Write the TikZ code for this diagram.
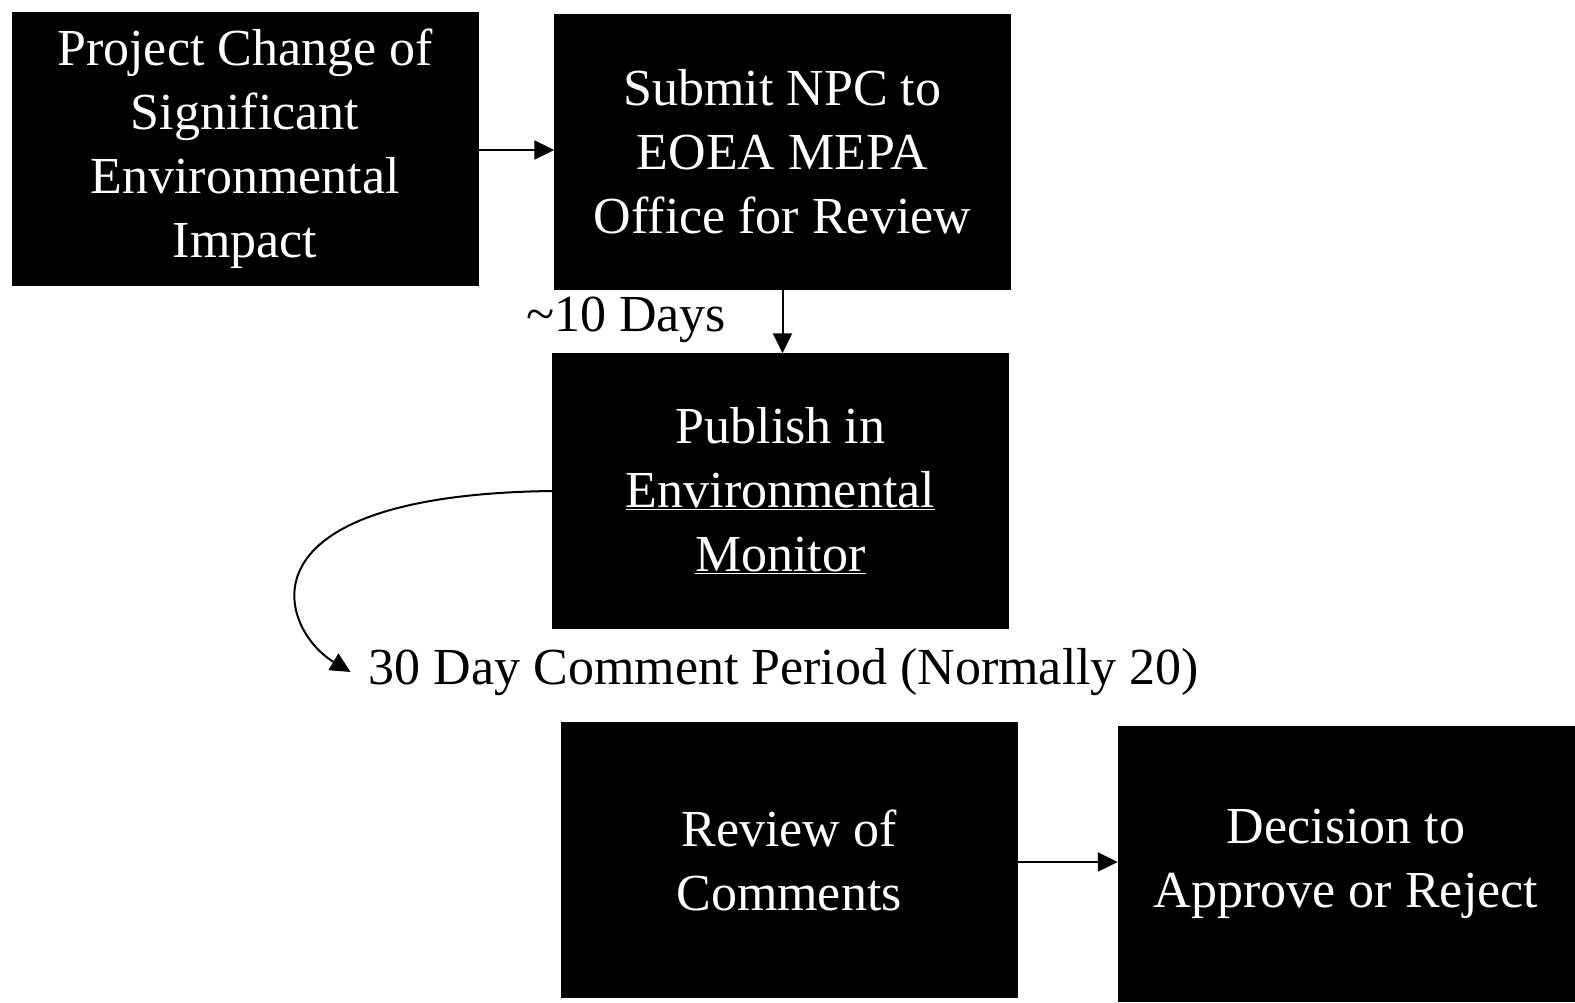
\documentclass[tikz,border=0pt]{standalone}
\usepackage{fontspec}
\setmainfont{Liberation Serif}
\usetikzlibrary{positioning, arrows.meta}

\begin{document}
\begin{tikzpicture}[
  x=1pt, y=-1pt,
  stepbox/.style={
    fill=black, draw=black, text=white, align=center,
    minimum width=456pt, minimum height=275pt,
    font=\fontsize{52}{64}\selectfont
  },
  flow/.style={line width=2pt, -{Triangle[length=20pt,width=19pt]}},
  note/.style={font=\fontsize{52}{60}\selectfont, inner sep=4pt}
]
\useasboundingbox (0,0) rectangle (1575,1003);
\node[stepbox, minimum width=466pt, minimum height=273pt] (proj) at (245,148.5) {Project Change of\\Significant\\Environmental\\Impact};
\node[stepbox] (npc) at (782.5,152) {Submit NPC to\\EOEA MEPA\\Office for Review};
\node[stepbox] (pub) at (780.5,491) {Publish in\\\underline{Environmental}\\\underline{Monitor}};
\node[stepbox] (rev) at (789,860) {Review of\\Comments};
\node[stepbox] (dec) at (1346,863.5) {Decision to\\Approve or Reject};
\node[note] (days) at (626,320) {\textasciitilde10 Days};
\node[note] (cmt) at (784,672) {30 Day Comment Period (Normally 20)};
\coordinate (cmtend) at ([xshift=-14pt]cmt.west);

\draw[flow] (proj.east |- 0,150) -- (npc.west |- 0,150);
\draw[flow] (npc.south) -- (npc.south |- pub.north);
\draw[flow] (rev.east |- 0,862) -- (dec.west |- 0,862);
\draw[flow] (pub.west) .. controls (230,495) and (280,630) .. (cmtend);
\end{tikzpicture}
\end{document}
